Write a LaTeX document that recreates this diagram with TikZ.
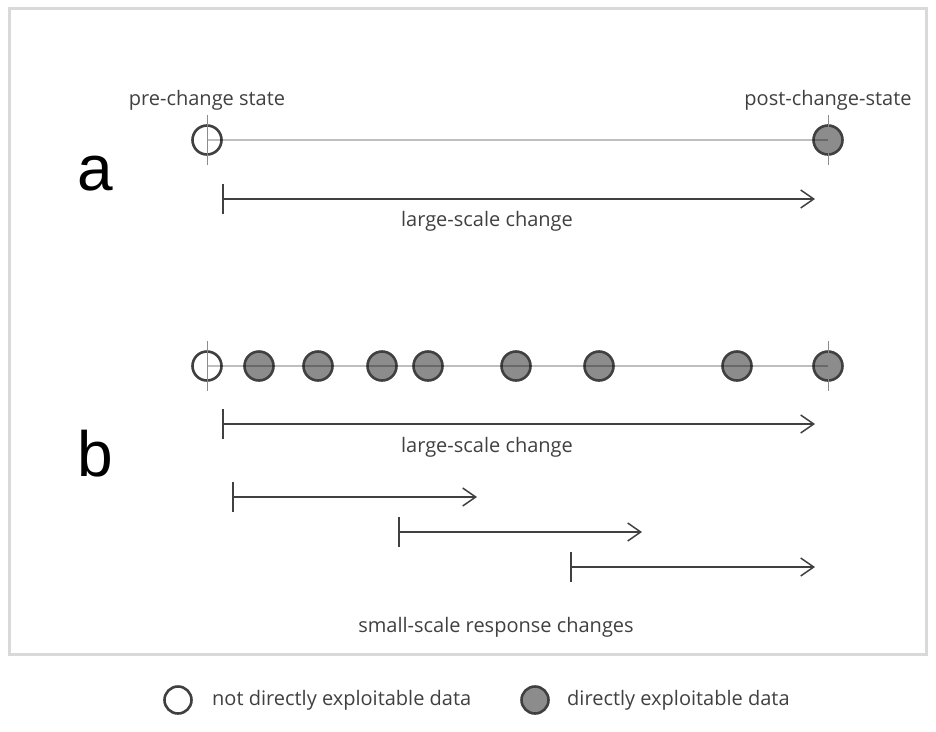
\documentclass[tikz,border=0pt]{standalone}
\usepackage{fontspec}
\setmainfont{Open Sans}
\newfontfamily\letterfont{Liberation Sans}
\usepackage{xcolor}
\definecolor{framegray}{HTML}{D9D9D9}
\definecolor{dotedge}{HTML}{404040}
\definecolor{dotfill}{HTML}{8C8C8C}
\definecolor{txtgray}{HTML}{404040}
\usepackage{tikz}
\usetikzlibrary{positioning,arrows.meta,calc}

\begin{document}
\begin{tikzpicture}[
  x=1pt, y=-1pt,
  font=\fontsize{20}{24}\selectfont,
  opendot/.style={circle, draw=dotedge, line width=2.6pt, fill=white, minimum size=29pt, inner sep=0pt},
  fulldot/.style={opendot, fill=dotfill},
  smalldot/.style={opendot, minimum size=27pt},
  lab/.style={text=txtgray, inner sep=0pt},
  panel/.style={font=\letterfont\fontsize{64}{70}\selectfont, inner sep=0pt},
  track/.style={draw=black, opacity=0.25, line width=2pt},
  tick/.style={draw=black!45, line width=1pt},
  arr/.style={{Bar[width=30pt]}-{Straight Barb[length=13pt,width=18pt]}, draw=dotedge, line width=1.5pt},
]
  \useasboundingbox (0,0) rectangle (936,731);
  \draw[framegray, line width=3pt] (9,8) rectangle (926,654);

  % panel a
  \node[panel] (pa) at (95,174) {a};
  \node[opendot] (a0) at (207,140) {};
  \node[fulldot] (a1) at (828,140) {};
  \draw[track] (a0.center) -- (a1.center);
  \draw[tick] (a0.center) ++(0,-25) -- ++(0,50);
  \draw[tick] (a1.center) ++(0,-25) -- ++(0,50);
  \node[lab] (pre) at (207,100) {pre-change state};
  \node[lab] (post) at (828,100) {post-change-state};
  \coordinate (ta) at (222,199);
  \coordinate (ha) at (815,199);
  \draw[arr] (ta) -- (ha);
  \node[lab] (lsa) at (487,221) {large-scale change};

  % panel b
  \node[panel] (pb) at (95,454) {b};
  \node[opendot] (b0) at (207,366) {};
  \foreach \i/\x in {1/259,2/318,3/382,4/428,5/516,6/599,7/737,8/828}
    \node[fulldot] (b\i) at (\x,366) {};
  \draw[track] (b0.center) -- (b8.center);
  \draw[tick] (b0.center) ++(0,-25) -- ++(0,50);
  \draw[tick] (b8.center) ++(0,-25) -- ++(0,50);
  \coordinate (tb) at (222,424);
  \coordinate (hb) at (815,424);
  \draw[arr] (tb) -- (hb);
  \node[lab] (lsb) at (487,447) {large-scale change};

  % small-scale responses
  \coordinate (t1) at (232,497);
  \coordinate (h1) at (477,497);
  \coordinate (t2) at (398,532);
  \coordinate (h2) at (642,532);
  \coordinate (t3) at (570,567);
  \coordinate (h3) at (815,567);
  \foreach \k in {1,2,3}
    \draw[arr] (t\k) -- (h\k);
  \node[lab] (ssr) at (496,627) {small-scale response changes};

  % legend
  \node[smalldot] (k0) at (178,700) {};
  \node[lab, anchor=west] (k0t) at (212,700) {not directly exploitable data};
  \node[smalldot, fill=dotfill] (k1) at (535,700) {};
  \node[lab, anchor=west] (k1t) at (567,700) {directly exploitable data};
\end{tikzpicture}
\end{document}
